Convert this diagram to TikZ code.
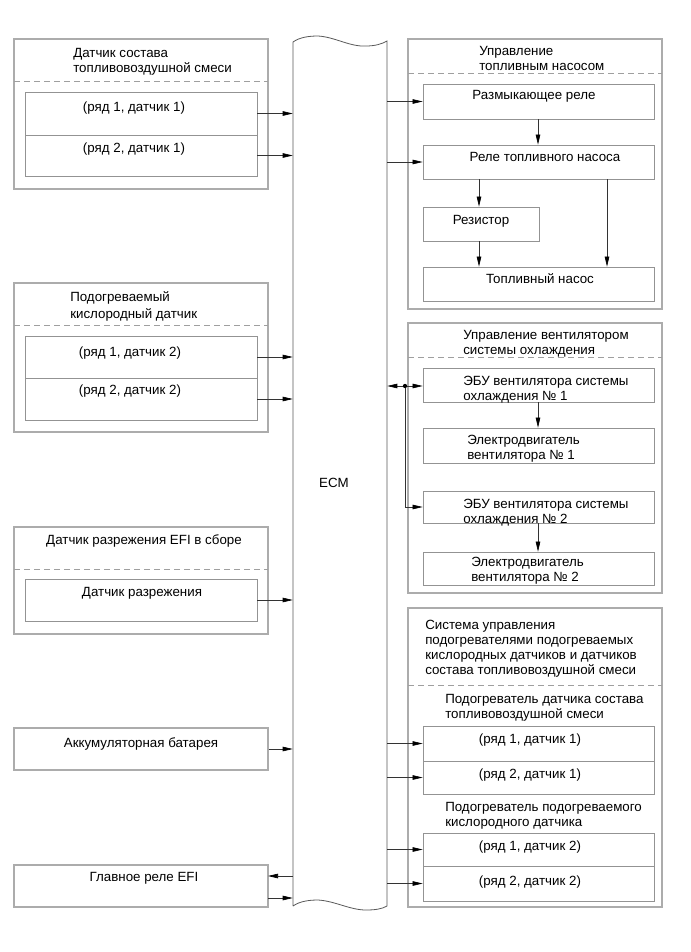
\documentclass[tikz,border=0pt]{standalone}
\usepackage{fontspec}
\setmainfont{Liberation Sans}
\usetikzlibrary{fit,arrows.meta}
\begin{document}
\begin{tikzpicture}[x=0.75pt,y=-0.75pt,
  outerbox/.style={draw=gray!65,line width=0.8pt,inner sep=0pt},
  innerbox/.style={draw=gray!85,line width=0.55pt,inner sep=0pt},
  hidden/.style={inner sep=0pt},
  sep/.style={draw=gray!75,line width=0.6pt,dash pattern=on 4.5pt off 3pt},
  lbl/.style={font=\fontsize{10}{11.25}\selectfont,inner sep=0pt,anchor=base,yshift=-1.2pt},
  ttl/.style={font=\fontsize{10}{11.25}\selectfont,inner sep=0pt,align=left,anchor=north west,yshift=-2.2pt},
  arr/.style={draw=gray!40!black,line width=0.5pt,-{Triangle[length=7.5pt,width=3.4pt,color=black]}},
  ln/.style={draw=gray!40!black,line width=0.5pt}]
\useasboundingbox (0,0) rectangle (690,952);
\fill[white] (0,0) rectangle (690,952);

% ECM column
\node[hidden,fit={(293,41)(387,906)}] (ecm) {};
\draw[draw=gray!70!black,line width=0.6pt]
  (293,906) -- (293,42) .. controls (300,37) and (310,36) .. (318,36)
  .. controls (335,37) and (350,47) .. (366,46)
  .. controls (375,46) and (382,44) .. (387,41) -- (387,906)
  .. controls (382,909) and (375,910) .. (366,910)
  .. controls (350,910) and (335,901) .. (318,900)
  .. controls (310,900) and (300,901) .. (293,906);
\node[lbl] (ecmt) at (334,486) {ECM};

% ---------- Left column ----------
% L1
\node[outerbox,fit={(14,39)(268,189)}] (L1) {};
\draw[sep] (14,81) -- (268,81);
\node[ttl] (L1t) at (73,45) {Датчик состава\\топливовоздушной смеси};
\node[innerbox,fit={(25,92)(257,135)}] (L1a) {};
\node[innerbox,fit={(25,135)(257,176)}] (L1b) {};
\node[lbl] (L1at) at (134,110) {(ряд 1, датчик 1)};
\node[lbl] (L1bt) at (134,151) {(ряд 2, датчик 1)};
\draw[arr] (L1a.east) -- (L1a.east -| ecm.west);
\draw[arr] (L1b.east) -- (L1b.east -| ecm.west);

% L2
\node[outerbox,fit={(14,283)(268,432)}] (L2) {};
\draw[sep] (14,325) -- (268,325);
\node[ttl] (L2t) at (70,288) {Подогреваемый\\[1.5pt]кислородный датчик};
\node[innerbox,fit={(25,336)(257,378)}] (L2a) {};
\node[innerbox,fit={(25,378)(257,420)}] (L2b) {};
\node[lbl] (L2at) at (130,355) {(ряд 1, датчик 2)};
\node[lbl] (L2bt) at (130,393) {(ряд 2, датчик 2)};
\draw[arr] (L2a.east) -- (L2a.east -| ecm.west);
\draw[arr] (L2b.east) -- (L2b.east -| ecm.west);

% L3
\node[outerbox,fit={(14,527)(268,634)}] (L3) {};
\draw[sep] (14,569) -- (268,569);
\node[lbl] (L3t) at (144,543) {Датчик разрежения EFI в сборе};
\node[innerbox,fit={(25,579)(257,621)}] (L3a) {};
\node[lbl] (L3at) at (142,595) {Датчик разрежения};
\draw[arr] (L3a.east) -- (L3a.east -| ecm.west);

% L4
\node[outerbox,fit={(14,728)(268,770)}] (L4) {};
\node[lbl] (L4t) at (141,746) {Аккумуляторная батарея};
\draw[arr] (L4.east) -- (L4.east -| ecm.west);

% L5
\node[outerbox,fit={(14,865)(268,907)}] (L5) {};
\node[lbl] (L5t) at (144,880) {Главное реле EFI};
\coordinate (L5in) at (268,876);
\coordinate (L5out) at (268,898);
\draw[arr] (L5in -| ecm.west) -- (L5in);
\draw[arr] (L5out) -- (L5out -| ecm.west);

% ---------- Right column ----------
% R1 fuel pump control
\node[outerbox,fit={(408,39)(662,309)}] (R1) {};
\draw[sep] (408,73) -- (662,73);
\node[ttl] (R1t) at (479,43) {Управление\\топливным насосом};
\node[innerbox,fit={(423,84)(654,119)}] (raz) {};
\node[lbl] (razt) at (534,98) {Размыкающее реле};
\node[innerbox,fit={(423,145)(654,179)}] (rel) {};
\node[lbl] (relt) at (545,160) {Реле топливного насоса};
\node[innerbox,fit={(423,207)(539,241)}] (rez) {};
\node[lbl] (rezt) at (481,223) {Резистор};
\node[innerbox,fit={(423,267)(654,301)}] (pump) {};
\node[lbl] (pumpt) at (540,282) {Топливный насос};
\draw[arr] (raz.east -| ecm.east) -- (raz.west);
\draw[arr] (rel.east -| ecm.east) -- (rel.west);
\coordinate (c538) at (538,0);
\coordinate (c479) at (479,0);
\coordinate (c607) at (607,0);
\draw[arr] (raz.south -| c538) -- (rel.north -| c538);
\draw[arr] (rel.south -| c479) -- (rez.north -| c479);
\draw[arr] (rez.south -| c479) -- (pump.north -| c479);
\draw[arr] (rel.south -| c607) -- (pump.north -| c607);

% R2 fan control
\node[outerbox,fit={(408,323)(662,593)}] (R2) {};
\draw[sep] (408,357) -- (662,357);
\node[ttl] (R2t) at (463,327) {Управление вентилятором\\системы охлаждения};
\node[innerbox,fit={(423,368)(654,402)}] (e1) {};
\node[ttl] (e1t) at (463,373) {ЭБУ вентилятора системы\\охлаждения № 1};
\node[innerbox,fit={(423,428)(654,463)}] (m1) {};
\node[ttl] (m1t) at (467,432) {Электродвигатель\\вентилятора № 1};
\node[innerbox,fit={(423,491)(654,523)}] (e2) {};
\node[ttl] (e2t) at (463,496) {ЭБУ вентилятора системы\\охлаждения № 2};
\node[innerbox,fit={(423,552)(654,585)}] (m2) {};
\node[ttl] (m2t) at (471,554) {Электродвигатель\\вентилятора № 2};
\draw[arr] (e1.south -| c538) -- (m1.north -| c538);
\draw[arr] (e2.south -| c538) -- (m2.north -| c538);
\coordinate (fj) at (405,386);
\draw[arr] (fj) -- (fj -| ecm.east);
\draw[arr] (fj) -- (fj -| e1.west);
\draw[arr] (fj) |- (e2.west);
\fill[black] (fj) circle (1.6pt);

% R3 heater control
\node[outerbox,fit={(408,608)(662,907)}] (R3) {};
\draw[sep] (408,685) -- (662,685);
\node[ttl] (R3t) at (425,617) {Система управления\\подогревателями подогреваемых\\кислородных датчиков и датчиков\\состава топливовоздушной смеси};
\node[ttl] (h1t) at (445,691) {Подогреватель датчика состава\\топливовоздушной смеси};
\node[innerbox,fit={(423,726)(654,761)}] (h1a) {};
\node[innerbox,fit={(423,761)(654,794)}] (h1b) {};
\node[lbl] (h1at) at (530,742) {(ряд 1, датчик 1)};
\node[lbl] (h1bt) at (530,777) {(ряд 2, датчик 1)};
\node[ttl] (h2t) at (445,799) {Подогреватель подогреваемого\\кислородного датчика};
\node[innerbox,fit={(423,833)(654,866)}] (h2a) {};
\node[innerbox,fit={(423,866)(654,901)}] (h2b) {};
\node[lbl] (h2at) at (530,849) {(ряд 1, датчик 2)};
\node[lbl] (h2bt) at (530,884) {(ряд 2, датчик 2)};
\draw[arr] (h1a.west -| ecm.east) -- (h1a.west);
\draw[arr] (h1b.west -| ecm.east) -- (h1b.west);
\draw[arr] (h2a.west -| ecm.east) -- (h2a.west);
\draw[arr] (h2b.west -| ecm.east) -- (h2b.west);
\end{tikzpicture}
\end{document}
